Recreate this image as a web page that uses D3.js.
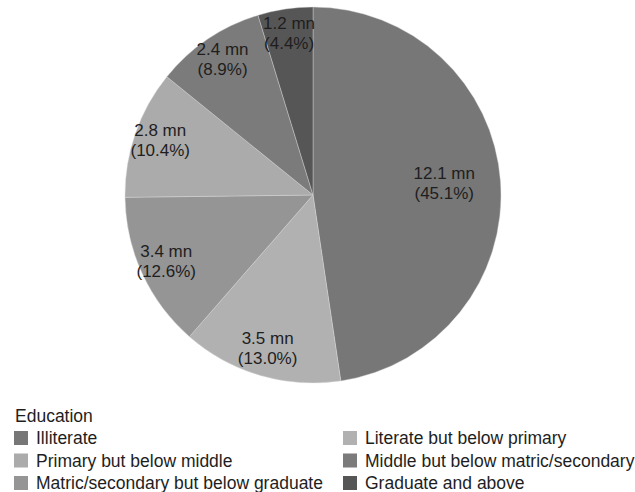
<!DOCTYPE html>
<html>
<head>
<meta charset="utf-8">
<script src="https://cdn.jsdelivr.net/npm/d3@7"></script>
<style>
  html, body { margin: 0; padding: 0; background: #fff; }
  svg { display: block; font-family: "Liberation Sans", Arial, sans-serif; }
</style>
</head>
<body>
<svg id="chart" width="635" height="492"></svg>
<script>
// Population by education level (millions) and each group's stated share
const categories = [
  "Illiterate",
  "Literate but below primary",
  "Matric/secondary but below graduate",
  "Primary but below middle",
  "Middle but below matric/secondary",
  "Graduate and above"
];
const valuesMn = [12.1, 3.5, 3.4, 2.8, 2.4, 1.2];
const sharePct = [45.1, 13.0, 12.6, 10.4, 8.9, 4.4];
const sliceColors = ["#777777", "#b1b1b1", "#959595", "#ababab", "#7b7b7b", "#565656"];

// Legend order (two columns, filled row by row)
const legendOrder = [
  "Illiterate",
  "Literate but below primary",
  "Primary but below middle",
  "Middle but below matric/secondary",
  "Matric/secondary but below graduate",
  "Graduate and above"
];
const legendTitle = "Education";

const svg = d3.select("#chart");
const cx = 313, cy = 195, R = 188;
const fontSize = 17.5;

const data = categories.map((c, i) => ({ cat: c, value: valuesMn[i], pct: sharePct[i] }));
const color = d3.scaleOrdinal().domain(categories).range(sliceColors);

const pie = d3.pie().value(d => d.value).sort(null);
const arcs = pie(data);
const arc = d3.arc().innerRadius(0).outerRadius(R);

const g = svg.append("g").attr("transform", `translate(${cx},${cy})`);

g.selectAll("path.slice")
  .data(arcs)
  .join("path")
  .attr("class", "slice")
  .attr("d", arc)
  .attr("fill", d => color(d.data.cat))
  .attr("stroke", "#dcdcdc")
  .attr("stroke-width", 0.4);

// Labels: the dominant slice is labelled near its centroid, smaller ones closer to the rim
const labelRadius = d => ((d.endAngle - d.startAngle) > Math.PI * 0.6 ? 0.70 : 0.86) * R;
const labels = g.selectAll("text.lbl")
  .data(arcs)
  .join("text")
  .attr("class", "lbl")
  .attr("transform", d => {
    const a = (d.startAngle + d.endAngle) / 2;
    const r = labelRadius(d);
    return `translate(${r * Math.sin(a)},${-r * Math.cos(a)})`;
  })
  .attr("text-anchor", "middle")
  .attr("font-size", 17)
  .attr("fill", "#1e1e1e");
labels.append("tspan").attr("x", 0).attr("y", -6).text(d => `${d.data.value} mn`);
labels.append("tspan").attr("x", 0).attr("y", 14).text(d => `(${d.data.pct.toFixed(1)}%)`);

// Legend
const legend = svg.append("g").attr("transform", "translate(14,0)");
legend.append("text")
  .attr("x", 1).attr("y", 422)
  .attr("font-size", fontSize).attr("fill", "#1e1e1e")
  .text(legendTitle);

const colX = [0, 329];
const rowY = d3.scaleLinear().domain([0, 2]).range([438, 483]);
const items = legend.selectAll("g.item")
  .data(legendOrder)
  .join("g")
  .attr("class", "item")
  .attr("transform", (d, i) => `translate(${colX[i % 2]},${rowY(Math.floor(i / 2))})`);
items.append("rect")
  .attr("x", 0).attr("y", -7).attr("width", 14).attr("height", 14)
  .attr("fill", d => color(d));
items.append("text")
  .attr("x", 22).attr("y", 6)
  .attr("font-size", fontSize).attr("fill", "#1e1e1e")
  .text(d => d);
</script>
</body>
</html>
